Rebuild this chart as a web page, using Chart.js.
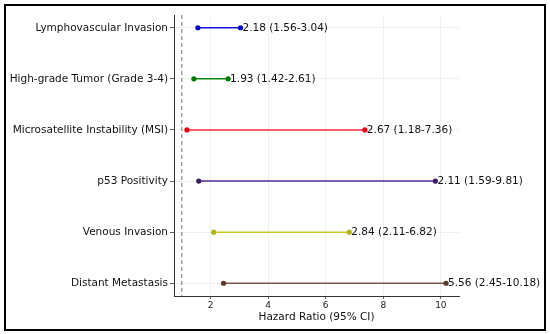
<!DOCTYPE html>
<html><head><meta charset="utf-8">
<script src="https://cdn.jsdelivr.net/npm/chart.js@4.4.0/dist/chart.umd.min.js"></script>
<style>html,body{margin:0;padding:0;background:#fff}#wrap{width:550px;height:334px}</style>
</head><body><div id="wrap"><canvas id="c" width="550" height="334"></canvas></div>
<script>
const categories = ["Lymphovascular Invasion","High-grade Tumor (Grade 3-4)","Microsatellite Instability (MSI)","p53 Positivity","Venous Invasion","Distant Metastasis"];
const hazardRatios = [2.18, 1.93, 2.67, 2.11, 2.84, 5.56];
const lowerCI = [1.56, 1.42, 1.18, 1.59, 2.11, 2.45];
const upperCI = [3.04, 2.61, 7.36, 9.81, 6.82, 10.18];
const xTicks = [2, 4, 6, 8, 10];
const lineColors = ["#1414d4", "#118811", "#ff2a3a", "#4e2d8c", "#c8c820", "#7a5444"];
const markerColors = ["#0000cc", "#007700", "#ee0010", "#3a1a66", "#b4b418", "#5a3828"];

const FONT = "'DejaVu Sans', sans-serif";

const datasets = categories.map((c, i) => ({
  label: c,
  data: [{x: lowerCI[i], y: i}, {x: upperCI[i], y: i}],
  showLine: true,
  borderColor: lineColors[i],
  borderWidth: 1.5,
  pointRadius: 2.6,
  pointBackgroundColor: markerColors[i],
  pointBorderColor: markerColors[i],
  pointBorderWidth: 0
}));

const extras = {
  id: 'extras',
  beforeDatasetsDraw(chart) {
    const {ctx, chartArea: a, scales: {x}} = chart;
    const px = x.getPixelForValue(1);
    ctx.save();
    ctx.strokeStyle = '#8a8a8a';
    ctx.lineWidth = 1.2;
    ctx.setLineDash([4, 3]);
    ctx.beginPath();
    ctx.moveTo(px, a.top);
    ctx.lineTo(px, a.bottom);
    ctx.stroke();
    ctx.restore();
  },
  afterDraw(chart) {
    const {ctx, scales: {x, y}} = chart;
    ctx.save();
    ctx.font = "10.5px " + FONT;
    ctx.fillStyle = '#111';
    ctx.textBaseline = 'middle';
    ctx.textAlign = 'left';
    categories.forEach((c, i) => {
      const t = hazardRatios[i].toFixed(2) + ' (' + lowerCI[i].toFixed(2) + '-' + upperCI[i].toFixed(2) + ')';
      ctx.fillText(t, x.getPixelForValue(upperCI[i]) + 2, y.getPixelForValue(i) + 0.5);
    });
    ctx.strokeStyle = '#000';
    ctx.lineWidth = 2;
    ctx.strokeRect(5, 5, 540, 325);
    ctx.restore();
  }
};

new Chart(document.getElementById('c'), {
  type: 'scatter',
  data: { datasets },
  options: {
    responsive: false,
    animation: false,
    layout: { padding: { left: 0, right: 91, top: 15, bottom: 10 } },
    plugins: { legend: { display: false }, tooltip: { enabled: false } },
    scales: {
      x: {
        type: 'linear', min: 0.73, max: 10.63,
        afterBuildTicks(s) { s.ticks = xTicks.map(v => ({value: v})); },
        afterFit(s) { s.height = 28; },
        grid: { color: '#ebebeb', tickColor: '#333', tickLength: 3, lineWidth: 0.8 },
        border: { color: '#333', width: 1 },
        ticks: { font: { family: FONT, size: 9 }, color: '#222', padding: 1, maxRotation: 0 },
        title: { display: true, text: 'Hazard Ratio (95% CI)', font: { family: FONT, size: 10.5 }, color: '#111', padding: { top: 0, bottom: 0 } }
      },
      y: {
        type: 'linear', min: -0.25, max: 5.25, reverse: true,
        afterBuildTicks(s) { s.ticks = categories.map((c, i) => ({value: i})); },
        afterFit(s) { s.width = 174; },
        grid: { color: '#ebebeb', tickColor: '#333', tickLength: 4, lineWidth: 0.8 },
        border: { color: '#333', width: 1 },
        ticks: { font: { family: FONT, size: 10.5 }, color: '#111', padding: 2,
          callback: v => categories[v] }
      }
    }
  },
  plugins: [extras]
});
</script></body></html>
